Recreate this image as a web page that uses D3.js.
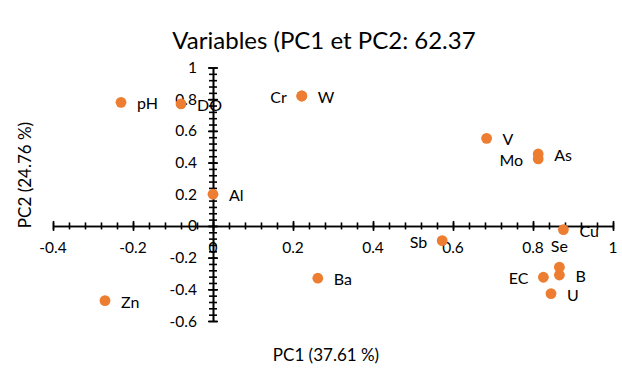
<!DOCTYPE html>
<html>
  <head>
    <meta charset="utf-8">
    <title>Variables PCA</title>
    <script src="https://d3js.org/d3.v7.min.js"></script>
    <style>
      body { margin: 0; background: #fff; }
      text { font-family: Lato, "Open Sans", sans-serif; fill: #000; }
    </style>
  </head>
  <body>
    <div id="chart"></div>
    <script>
      // data (PC1 / PC2 loadings)
      var variables = ["pH", "DO", "Cr", "W", "V", "Mo", "As", "Al", "Cu", "Sb", "Se", "B", "EC", "U", "Ba", "Zn"];
      var pc1 = [-0.23, -0.08, 0.222, 0.222, 0.684, 0.813, 0.813, 0.0, 0.876, 0.573, 0.866, 0.866, 0.826, 0.845, 0.262, -0.27];
      var pc2 = [0.78, 0.77, 0.82, 0.82, 0.553, 0.423, 0.454, 0.2, -0.023, -0.093, -0.26, -0.31, -0.324, -0.427, -0.33, -0.471];
      var xTicks = [-0.4, -0.2, 0, 0.2, 0.4, 0.6, 0.8, 1];
      var yTicks = [-0.6, -0.4, -0.2, 0, 0.2, 0.4, 0.6, 0.8, 1];

      // where each data label sits relative to its dot
      var labelSide = { Cr: "left", Mo: "left", Sb: "left", EC: "left", Se: "above" };

      var width = 622, height = 369;
      var svg = d3.select("#chart").append("svg")
        .attr("width", width)
        .attr("height", height);

      var x = d3.scaleLinear().domain([-0.4, 1]).range([53, 613]);
      var y = d3.scaleLinear().domain([-0.6, 1]).range([321, 67.5]);

      // minor ticks every 0.04
      var xMinor = d3.range(-0.4, 1.0001, 0.04).map(function(d) { return +d.toFixed(2); });
      var yMinor = d3.range(-0.6, 1.0001, 0.04).map(function(d) { return +d.toFixed(2); });

      // title
      svg.append("text")
        .attr("x", 324)
        .attr("y", 49)
        .attr("text-anchor", "middle")
        .style("font-size", "24px")
        .text("Variables (PC1 et PC2: 62.37");

      // axes crossing at 0
      var xAxisG = svg.append("g").attr("transform", "translate(0," + y(0) + ")");
      xAxisG.call(d3.axisBottom(x).tickValues(xMinor).tickFormat("").tickSizeOuter(0));
      xAxisG.selectAll(".tick line").attr("y1", -3.5).attr("y2", 3.5);
      xAxisG.append("g").call(d3.axisBottom(x).tickValues(xTicks).tickFormat("").tickSizeOuter(0))
        .selectAll(".tick line").attr("y1", -5).attr("y2", 5);

      var yAxisG = svg.append("g").attr("transform", "translate(" + x(0) + ",0)");
      yAxisG.call(d3.axisLeft(y).tickValues(yMinor).tickFormat("").tickSizeOuter(0));
      yAxisG.selectAll(".tick line").attr("x1", -4).attr("x2", 4);
      yAxisG.append("g").call(d3.axisLeft(y).tickValues(yTicks).tickFormat("").tickSizeOuter(0))
        .selectAll(".tick line").attr("x1", -5).attr("x2", 5);

      svg.selectAll(".domain, .tick line")
        .attr("stroke", "#000")
        .attr("stroke-width", 1.6);

      // tick labels
      svg.append("g").selectAll("text")
        .data(xTicks)
        .join("text")
          .attr("x", function(d) { return x(d); })
          .attr("y", 253)
          .attr("text-anchor", "middle")
          .style("font-size", "15.5px")
          .text(function(d) { return d; });
      svg.append("g").selectAll("text")
        .data(yTicks)
        .join("text")
          .attr("x", 197)
          .attr("y", function(d) { return y(d) + 5.5; })
          .attr("text-anchor", "end")
          .style("font-size", "15.5px")
          .text(function(d) { return d; });

      // axis titles
      svg.append("text")
        .attr("x", 326)
        .attr("y", 361)
        .attr("text-anchor", "middle")
        .style("font-size", "17px")
        .text("PC1 (37.61 %)");
      svg.append("text")
        .attr("transform", "translate(31,175) rotate(-90)")
        .attr("text-anchor", "middle")
        .style("font-size", "17px")
        .text("PC2 (24.76 %)");

      // points
      var points = variables.map(function(v, i) { return { name: v, x: pc1[i], y: pc2[i] }; });
      svg.append("g").selectAll("circle")
        .data(points)
        .join("circle")
          .attr("cx", function(d) { return x(d.x); })
          .attr("cy", function(d) { return y(d.y); })
          .attr("r", 5.4)
          .attr("fill", "#ED7D31");

      // data labels
      svg.append("g").selectAll("text")
        .data(points)
        .join("text")
          .attr("x", function(d) {
            var side = labelSide[d.name];
            if (side === "left") return x(d.x) - 15;
            if (side === "above") return x(d.x);
            return x(d.x) + 16;
          })
          .attr("y", function(d) {
            var side = labelSide[d.name];
            if (side === "above") return y(d.y) - 21 + 6;
            return y(d.y) + 7;
          })
          .attr("text-anchor", function(d) {
            var side = labelSide[d.name];
            if (side === "left") return "end";
            if (side === "above") return "middle";
            return "start";
          })
          .style("font-size", "16px")
          .text(function(d) { return d.name; });
    </script>
  </body>
</html>
